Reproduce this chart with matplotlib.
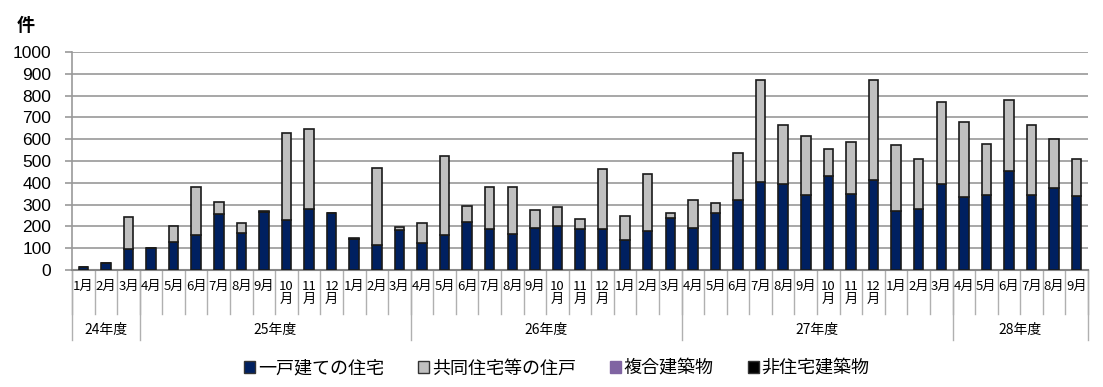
import numpy as np
import matplotlib.pyplot as plt
from matplotlib.patches import Patch

plt.rcParams['font.family'] = ['Noto Sans CJK JP', 'DejaVu Sans']

# 年度ごとの月ラベル
years = ['24年度', '25年度', '26年度', '27年度', '28年度']
year_months = [
    ['1月', '2月', '3月'],
    ['4月', '5月', '6月', '7月', '8月', '9月', '10\n月', '11\n月', '12\n月', '1月', '2月', '3月'],
    ['4月', '5月', '6月', '7月', '8月', '9月', '10\n月', '11\n月', '12\n月', '1月', '2月', '3月'],
    ['4月', '5月', '6月', '7月', '8月', '9月', '10\n月', '11\n月', '12\n月', '1月', '2月', '3月'],
    ['4月', '5月', '6月', '7月', '8月', '9月'],
]

# 一戸建ての住宅
detached = [15, 30, 95,
            100, 127, 159, 255, 169, 267, 229, 278, 260, 144, 113, 182,
            125, 160, 218, 189, 163, 195, 200, 186, 189, 136, 177, 238,
            195, 260, 321, 406, 394, 344, 432, 347, 411, 270, 281, 395,
            333, 344, 456, 344, 377, 339]
# 合計（一戸建て＋共同住宅）
total = [15, 30, 244,
         100, 200, 382, 313, 214, 270, 627, 649, 263, 145, 467, 197,
         215, 524, 293, 380, 380, 275, 289, 235, 463, 250, 440, 261,
         319, 307, 536, 872, 663, 614, 556, 585, 872, 573, 507, 769,
         681, 576, 779, 663, 600, 510]
apartment = [t - d for t, d in zip(total, detached)]
mixed = [0] * len(total)
nonres = [0] * len(total)

labels = [m for ms in year_months for m in ms]
x = np.arange(len(labels))
yticks = np.arange(0, 1001, 100)

c_det, c_apt, c_mix, c_non = '#002060', '#c0c0c0', '#8064a2', '#000000'

fig = plt.figure(figsize=(11.03, 3.87), dpi=100)
ax = fig.add_axes([0.0653, 0.3023, 0.9211, 0.5633])

w = 0.42
ax.bar(x, detached, w, color=c_det, edgecolor='#1a1a1a', linewidth=1.2, zorder=3)
ax.bar(x, apartment, w, bottom=detached, color=c_apt, edgecolor='#1a1a1a', linewidth=1.2, zorder=3)
b2 = np.array(detached) + np.array(apartment)
ax.bar(x, mixed, w, bottom=b2, color=c_mix, linewidth=0, zorder=3)
ax.bar(x, nonres, w, bottom=b2 + np.array(mixed), color=c_non, linewidth=0, zorder=3)

ax.set_xlim(-0.5, len(labels) - 0.5)
ax.set_ylim(0, 1000)
ax.set_yticks(yticks)
ax.set_yticklabels([str(v) for v in yticks], family=['Liberation Sans'], fontsize=12.5)
ax.tick_params(axis='y', length=5, color='#999999', width=1.2, pad=10)
ax.tick_params(axis='x', bottom=False, labelbottom=False)
ax.grid(axis='y', color='#a0a0a0', linewidth=1.3, zorder=0)
for s in ['top', 'right']:
    ax.spines[s].set_visible(False)
ax.spines['left'].set_color('#999999')
ax.spines['left'].set_linewidth(1.2)
ax.spines['bottom'].set_color('#888888')
ax.spines['bottom'].set_linewidth(1.5)

fig.text(0.015, 0.935, '件', fontsize=13, fontweight='bold', va='center')

# 多段の横軸ラベル
tr = ax.get_xaxis_transform()
for i, lab in enumerate(labels):
    ax.text(i, -0.045, lab, transform=tr, ha='center', va='top',
            fontsize=9.5, linespacing=1.0)
for i in range(len(labels) + 1):
    ax.plot([i - 0.5, i - 0.5], [0, -0.2], transform=tr, color='#b0b0b0',
            linewidth=1.0, clip_on=False)
start = 0
for yr, ms in zip(years, year_months):
    end = start + len(ms)
    ax.plot([start - 0.5, start - 0.5], [0, -0.32], transform=tr, color='#b0b0b0',
            linewidth=1.0, clip_on=False)
    ax.text((start + end - 1) / 2, -0.275, yr, transform=tr, ha='center',
            va='center', fontsize=10)
    start = end
ax.plot([start - 0.5, start - 0.5], [0, -0.32], transform=tr, color='#b0b0b0',
        linewidth=1.0, clip_on=False)

handles = [Patch(facecolor=c_det, edgecolor='#333333'),
           Patch(facecolor=c_apt, edgecolor='#333333'),
           Patch(facecolor=c_mix, edgecolor='#8064a2'),
           Patch(facecolor=c_non, edgecolor='#333333')]
fig.legend(handles, ['一戸建ての住宅', '共同住宅等の住戸', '複合建築物', '非住宅建築物'],
           loc='center', bbox_to_anchor=(0.505, 0.048), ncol=4, frameon=False,
           fontsize=13, handlelength=0.6, handleheight=0.6, handletextpad=0.15,
           columnspacing=1.9)

fig.savefig('out.png', dpi=100)
